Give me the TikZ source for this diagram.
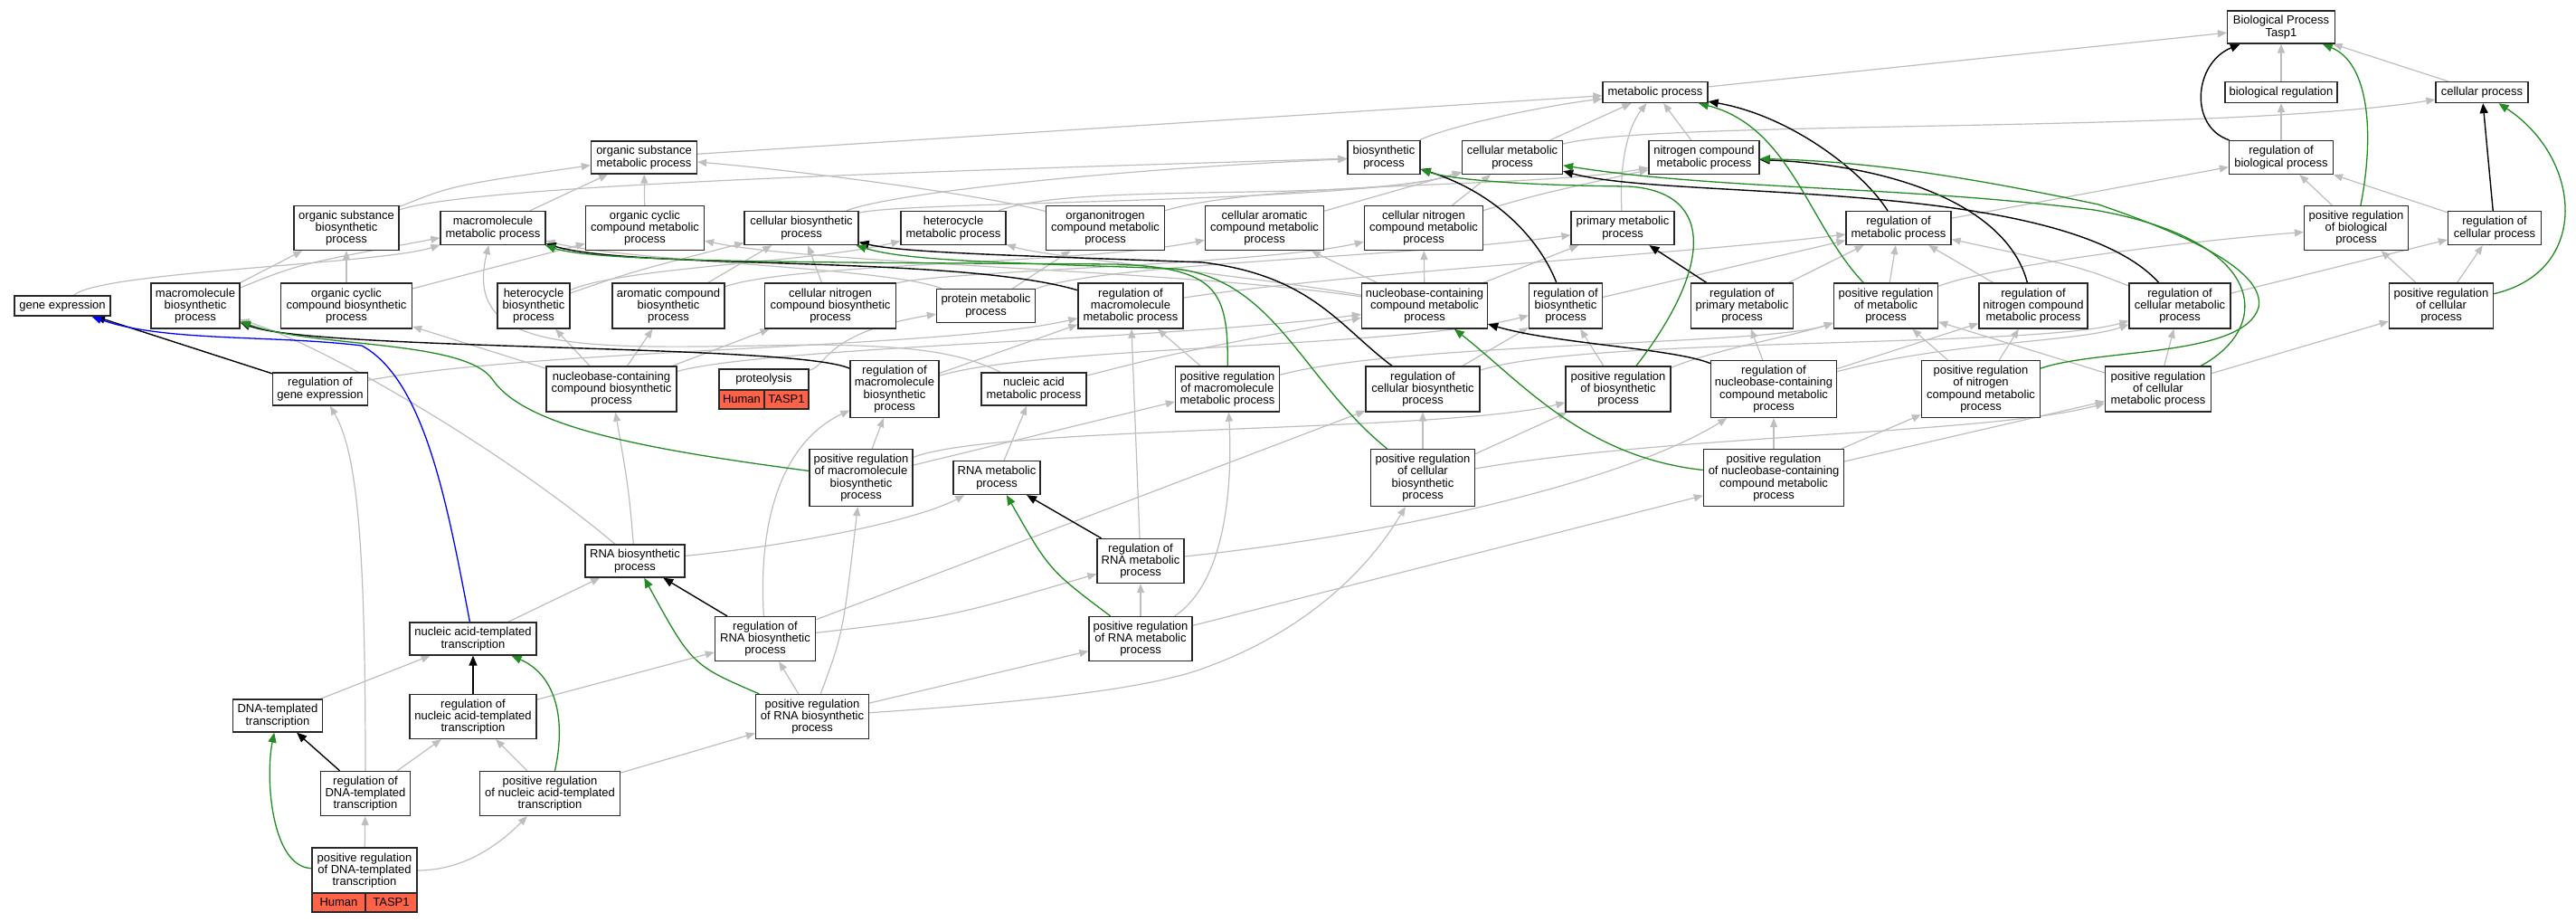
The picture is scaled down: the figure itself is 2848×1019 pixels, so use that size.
\documentclass[tikz,border=0pt]{standalone}
\usepackage{fontspec}
\setmainfont{Liberation Sans}
\usetikzlibrary{arrows.meta}
\definecolor{isagray}{RGB}{190,190,190}
\definecolor{pgreen}{RGB}{34,139,34}
\definecolor{tomatoc}{RGB}{255,99,71}
\definecolor{boxline}{RGB}{40,40,40}
\newcommand\gofont{\fontsize{13}{13.3}\selectfont}
\pgfdeclarelayer{bglayer}
\pgfdeclarelayer{edgelayer}
\pgfsetlayers{bglayer,edgelayer,main}
\tikzset{
  gobox/.style={draw=boxline, line width=1.3pt, fill=white, rectangle, inner sep=0pt, align=center, font=\gofont},
  tcell/.style={gobox, fill=tomatoc},
  wh/.style 2 args={minimum width=#1pt, minimum height=#2pt},
  isa/.style={draw=isagray, line width=1.2pt, -{Triangle[length=10pt,width=8pt]}},
  regl/.style={draw=black, line width=1.4pt, -{Triangle[length=11pt,width=9pt]}},
  preg/.style={draw=pgreen, line width=1.3pt, -{Triangle[length=11pt,width=9pt]}},
  partof/.style={draw=blue, line width=1.3pt, -{Triangle[length=11pt,width=9pt]}},
}
\begin{document}
\begin{tikzpicture}[x=1pt,y=-1pt]
\useasboundingbox (0,0) rectangle (2848,1019);
\begin{pgfonlayer}{bglayer}
\fill[white] (0,0) rectangle (2848,1019);
\end{pgfonlayer}
% ---------------- nodes ----------------
\node[gobox,wh={119}{36}] (t) at (2522,30) {Biological Process\\Tasp1};
\node[gobox,wh={124}{23}] (br) at (2522,102) {biological regulation};
\node[gobox,wh={102}{23}] (cp) at (2744,102) {cellular process};
\node[gobox,wh={116}{23}] (mp) at (1830,102) {metabolic process};
\node[gobox,wh={115}{37}] (rbp) at (2522,174) {regulation of\\biological process};
\node[gobox,wh={117}{36}] (osmp) at (712,174) {organic substance\\metabolic process};
\node[gobox,wh={80}{37}] (bsp) at (1530,174) {biosynthetic\\process};
\node[gobox,wh={111}{37}] (cmp) at (1672,174) {cellular metabolic\\process};
\node[gobox,wh={122}{37}] (ncmp) at (1884,174) {nitrogen compound\\metabolic process};
\node[gobox,wh={116}{49}] (osbp) at (383,252) {organic substance\\biosynthetic\\process};
\node[gobox,wh={116}{37}] (mmp) at (545,252) {macromolecule\\metabolic process};
\node[gobox,wh={131}{49}] (occmp) at (713,252) {organic cyclic\\compound metabolic\\process};
\node[gobox,wh={126}{37}] (cbp) at (886,252) {cellular biosynthetic\\process};
\node[gobox,wh={116}{37}] (hmp) at (1054,252) {heterocycle\\metabolic process};
\node[gobox,wh={131}{49}] (oncmp) at (1222,252) {organonitrogen\\compound metabolic\\process};
\node[gobox,wh={131}{49}] (cacmp) at (1398,252) {cellular aromatic\\compound metabolic\\process};
\node[gobox,wh={131}{49}] (cncmp) at (1574,252) {cellular nitrogen\\compound metabolic\\process};
\node[gobox,wh={114}{37}] (pmp) at (1794,252) {primary metabolic\\process};
\node[gobox,wh={116}{37}] (rmp) at (2099,252) {regulation of\\metabolic process};
\node[gobox,wh={115}{49}] (prbp) at (2605,252) {positive regulation\\of biological\\process};
\node[gobox,wh={103}{37}] (rcp) at (2758,252) {regulation of\\cellular process};
\node[gobox,wh={106}{22}] (ge) at (69,338) {gene expression};
\node[gobox,wh={98}{50}] (mbp) at (216,338) {macromolecule\\biosynthetic\\process};
\node[gobox,wh={145}{50}] (occbp) at (383,338) {organic cyclic\\compound biosynthetic\\process};
\node[gobox,wh={80}{50}] (hbp) at (590,338) {heterocycle\\biosynthetic\\process};
\node[gobox,wh={124}{50}] (acbp) at (739,338) {aromatic compound\\biosynthetic\\process};
\node[gobox,wh={145}{50}] (cncbp) at (918,338) {cellular nitrogen\\compound biosynthetic\\process};
\node[gobox,wh={109}{37}] (protmp) at (1090,338) {protein metabolic\\process};
\node[gobox,wh={116}{50}] (rmmp) at (1250,338) {regulation of\\macromolecule\\metabolic process};
\node[gobox,wh={139}{50}] (nccmp) at (1575,338) {nucleobase-containing\\compound metabolic\\process};
\node[gobox,wh={81}{50}] (rbsp) at (1731,338) {regulation of\\biosynthetic\\process};
\node[gobox,wh={113}{50}] (rpmp) at (1926,338) {regulation of\\primary metabolic\\process};
\node[gobox,wh={115}{50}] (prmp) at (2085,338) {positive regulation\\of metabolic\\process};
\node[gobox,wh={120}{50}] (rncmp) at (2248,338) {regulation of\\nitrogen compound\\metabolic process};
\node[gobox,wh={112}{50}] (rcmp) at (2410,338) {regulation of\\cellular metabolic\\process};
\node[gobox,wh={115}{50}] (prcp) at (2699,338) {positive regulation\\of cellular\\process};
\node[gobox,wh={105}{36}] (rge) at (354,430) {regulation of\\gene expression};
\node[gobox,wh={144}{50}] (nccbp) at (676,430) {nucleobase-containing\\compound biosynthetic\\process};
\node[gobox,wh={99}{23}] (prot) at (844.5,419.5) {proteolysis};
\node[tcell,wh={50}{21}] (proth) at (820,441.5) {Human};
\node[tcell,wh={49}{21}] (protg) at (869.5,441.5) {TASP1};
\node[gobox,wh={98}{63}] (rmbp) at (989,430) {regulation of\\macromolecule\\biosynthetic\\process};
\node[gobox,wh={116}{36}] (namp) at (1143,430) {nucleic acid\\metabolic process};
\node[gobox,wh={115}{50}] (prmmp) at (1357,430) {positive regulation\\of macromolecule\\metabolic process};
\node[gobox,wh={126}{50}] (rcbp) at (1573,430) {regulation of\\cellular biosynthetic\\process};
\node[gobox,wh={116}{50}] (prbsp) at (1789,430) {positive regulation\\of biosynthetic\\process};
\node[gobox,wh={139}{63}] (rnccmp) at (1961,430) {regulation of\\nucleobase-containing\\compound metabolic\\process};
\node[gobox,wh={131}{63}] (prncmp) at (2190,430) {positive regulation\\of nitrogen\\compound metabolic\\process};
\node[gobox,wh={117}{50}] (prcmp) at (2386,430) {positive regulation\\of cellular\\metabolic process};
\node[gobox,wh={114}{63}] (prmbp) at (952,528) {positive regulation\\of macromolecule\\biosynthetic\\process};
\node[gobox,wh={96}{37}] (rnamp) at (1102,528) {RNA metabolic\\process};
\node[gobox,wh={115}{63}] (prcbp) at (1573,528) {positive regulation\\of cellular\\biosynthetic\\process};
\node[gobox,wh={155}{63}] (prnccmp) at (1961,528) {positive regulation\\of nucleobase-containing\\compound metabolic\\process};
\node[gobox,wh={110}{36}] (rnabp) at (702,620) {RNA biosynthetic\\process};
\node[gobox,wh={96}{49}] (rrnamp) at (1261,620) {regulation of\\RNA metabolic\\process};
\node[gobox,wh={140}{36}] (natt) at (523,706) {nucleic acid-templated\\transcription};
\node[gobox,wh={111}{49}] (rrnabp) at (846,706) {regulation of\\RNA biosynthetic\\process};
\node[gobox,wh={114}{49}] (prrnamp) at (1261,706) {positive regulation\\of RNA metabolic\\process};
\node[gobox,wh={99}{36}] (dnatt) at (307,791) {DNA-templated\\transcription};
\node[gobox,wh={140}{49}] (rnatt) at (523,792) {regulation of\\nucleic acid-templated\\transcription};
\node[gobox,wh={125}{49}] (prrnabp) at (898,792) {positive regulation\\of RNA biosynthetic\\process};
\node[gobox,wh={99}{49}] (rdnatt) at (404,877) {regulation of\\DNA-templated\\transcription};
\node[gobox,wh={155}{49}] (prnatt) at (608,877) {positive regulation\\of nucleic acid-templated\\transcription};
\node[gobox,wh={116}{50}] (prdnatt) at (403,962) {positive regulation\\of DNA-templated\\transcription};
\node[tcell,wh={59}{21}] (pdh) at (374.5,997.5) {Human};
\node[tcell,wh={57}{21}] (pdg) at (432.5,997.5) {TASP1};
% ---------------- edges ----------------
\begin{pgfonlayer}{edgelayer}
% is_a (gray)
\draw[isa] (br) -- (t);
\draw[isa] (cp) -- (t);
\draw[isa] (mp) -- (t);
\draw[isa] (rbp) -- (br);
\draw[isa] (prbp) -- (rbp);
\draw[isa] (rcp) -- (rbp);
\draw[isa] (prcp) -- (rcp);
\draw[isa] (prcp) -- (prbp);
\draw[isa] (rmp) -- (rbp);
\draw[isa] (cmp) .. controls (1830,132) and (2450,148) .. (cp);
\draw[isa] (osmp) -- (mp);
\draw[isa] (bsp) .. controls (1600,140) and (1700,118) .. (mp);
\draw[isa] (cmp) -- (mp);
\draw[isa] (ncmp) -- (mp);
\draw[isa] (pmp) .. controls (1790,180) and (1800,140) .. (mp);
\draw[isa] (osbp) .. controls (500,205) .. (osmp);
\draw[isa] (osbp) .. controls (520,205) and (1000,190) .. (bsp);
\draw[isa] (mmp) -- (osmp);
\draw[isa] (occmp) -- (osmp);
\draw[isa] (oncmp) .. controls (1100,218) and (900,190) .. (osmp);
\draw[isa] (ge) .. controls (110,300) and (420,292) .. (mmp);
\draw[isa] (mbp) .. controls (330,292) .. (mmp);
\draw[isa] (mbp) -- (osbp);
\draw[isa] (occbp) -- (osbp);
\draw[isa] (occbp) -- (occmp);
\draw[isa] (hbp) .. controls (690,295) and (900,290) .. (hmp);
\draw[isa] (hbp) .. controls (700,300) .. (cbp);
\draw[isa] (acbp) -- (cbp);
\draw[isa] (acbp) .. controls (880,290) and (1200,292) .. (cacmp);
\draw[isa] (cncbp) -- (cbp);
\draw[isa] (cncbp) .. controls (1030,300) and (1400,292) .. (cncmp);
\draw[isa] (nccbp) -- (occbp);
\draw[isa] (nccbp) -- (hbp);
\draw[isa] (nccbp) -- (acbp);
\draw[isa] (nccbp) -- (cncbp);
\draw[isa] (nccbp) .. controls (850,383) and (1300,375) .. (nccmp);
\draw[isa] (cbp) .. controls (990,212) and (1250,186) .. (bsp);
\draw[isa] (cbp) .. controls (1000,222) and (1500,225) .. (cmp);
\draw[isa] (hmp) .. controls (1190,200) and (1500,225) .. (cmp);
\draw[isa] (oncmp) .. controls (1400,200) and (1700,208) .. (ncmp);
\draw[isa] (cacmp) -- (cmp);
\draw[isa] (cncmp) -- (cmp);
\draw[isa] (cncmp) .. controls (1700,215) .. (ncmp);
\draw[isa] (protmp) .. controls (980,295) and (700,290) .. (mmp);
\draw[isa] (protmp) -- (oncmp);
\draw[isa] (protmp) .. controls (1230,290) and (1550,285) .. (pmp);
\draw[isa] (nccmp) -- (cacmp);
\draw[isa] (nccmp) -- (cncmp);
\draw[isa] (nccmp) -- (pmp);
\draw[isa] (nccmp) .. controls (1350,300) and (1160,285) .. (hmp);
\draw[isa] (nccmp) .. controls (1300,298) and (900,292) .. (occmp);
\draw[isa] (prot) .. controls (915,405) and (910,368) .. (protmp);
\draw[isa] (rnabp) .. controls (560,500) and (360,382) .. (mbp);
\draw[isa] (rnabp) .. controls (695,540) .. (nccbp);
\draw[isa] (rnabp) .. controls (900,600) and (1020,572) .. (rnamp);
\draw[isa] (natt) -- (rnabp);
\draw[isa] (dnatt) -- (natt);
\draw[isa] (rnatt) -- (rrnabp);
\draw[isa] (prnatt) -- (rnatt);
\draw[isa] (prnatt) -- (prrnabp);
\draw[isa] (rdnatt) -- (rnatt);
\draw[isa] (rdnatt) .. controls (404,600) and (395,500) .. (rge);
\draw[isa] (prdnatt) -- (rdnatt);
\draw[isa] (prdnatt) .. controls (520,962) and (560,925) .. (prnatt);
\draw[isa] (rrnabp) .. controls (1050,682) .. (rrnamp);
\draw[isa] (rrnabp) -- (rcbp);
\draw[isa] (rrnabp) .. controls (838,580) and (862,490) .. (rmbp);
\draw[isa] (prrnabp) -- (rrnabp);
\draw[isa] (prrnabp) -- (prrnamp);
\draw[isa] (prrnabp) .. controls (932,700) .. (prmbp);
\draw[isa] (prrnabp) .. controls (1150,775) and (1280,760) .. (1340,735) .. controls (1420,705) and (1500,650) .. (prcbp);
\draw[isa] (prrnamp) -- (rrnamp);
\draw[isa] (prrnamp) -- (prnccmp);
\draw[isa] (prrnamp) .. controls (1360,640) and (1362,520) .. (prmmp);
\draw[isa] (rrnamp) .. controls (1550,590) and (1800,530) .. (rnccmp);
\draw[isa] (rrnamp) -- (rmmp);
\draw[isa] (rnamp) -- (namp);
\draw[isa] (namp) .. controls (1300,390) .. (nccmp);
\draw[isa] (namp) .. controls (1060,388) and (1000,382) .. (900,381) .. controls (650,385) and (510,395) .. (mmp);
\draw[isa] (prmbp) -- (rmbp);
\draw[isa] (prmbp) -- (prmmp);
\draw[isa] (prmbp) .. controls (1100,470) and (1600,478) .. (prbsp);
\draw[isa] (rmbp) -- (rmmp);
\draw[isa] (rmbp) .. controls (1150,382) and (1550,385) .. (rbsp);
\draw[isa] (rge) .. controls (600,385) and (1050,385) .. (rmmp);
\draw[isa] (prmmp) -- (rmmp);
\draw[isa] (prmmp) .. controls (1550,378) and (1950,382) .. (prmp);
\draw[isa] (rcbp) -- (rbsp);
\draw[isa] (rcbp) .. controls (1750,372) and (2250,385) .. (rcmp);
\draw[isa] (prbsp) -- (rbsp);
\draw[isa] (prbsp) .. controls (1900,385) and (1980,372) .. (prmp);
\draw[isa] (rnccmp) -- (rpmp);
\draw[isa] (rnccmp) -- (rncmp);
\draw[isa] (rnccmp) .. controls (2150,378) and (2300,378) .. (rcmp);
\draw[isa] (prnccmp) -- (rnccmp);
\draw[isa] (prnccmp) -- (prncmp);
\draw[isa] (prnccmp) -- (prcmp);
\draw[isa] (prcbp) -- (rcbp);
\draw[isa] (prcbp) -- (prbsp);
\draw[isa] (prcbp) .. controls (1850,480) and (2200,480) .. (prcmp);
\draw[isa] (prncmp) -- (rncmp);
\draw[isa] (prncmp) -- (prmp);
\draw[isa] (prcmp) -- (rcmp);
\draw[isa] (prcmp) -- (prmp);
\draw[isa] (prcmp) -- (prcp);
\draw[isa] (rpmp) -- (rmp);
\draw[isa] (rbsp) -- (rmp);
\draw[isa] (rmmp) .. controls (1500,300) and (1850,282) .. (rmp);
\draw[isa] (rncmp) -- (rmp);
\draw[isa] (rcmp) .. controls (2300,295) .. (rmp);
\draw[isa] (prmp) -- (rmp);
\draw[isa] (prmp) .. controls (2200,295) and (2400,268) .. (prbp);
\draw[isa] (rcmp) -- (rcp);
% regulates (black)
\draw[regl] (rbp) .. controls (2420,140) and (2425,70) .. (t);
\draw[regl] (rcp) -- (cp);
\draw[regl] (rmp) .. controls (2060,190) and (1980,128) .. (mp);
\draw[regl] (rbsp) .. controls (1700,260) and (1650,212) .. (bsp);
\draw[regl] (rpmp) -- (pmp);
\draw[regl] (rncmp) .. controls (2220,230) and (2100,183) .. (ncmp);
\draw[regl] (rcmp) .. controls (2280,195) and (1850,222) .. (cmp);
\draw[regl] (rnccmp) .. controls (1850,385) and (1720,380) .. (nccmp);
\draw[regl] (rcbp) .. controls (1480,360) and (1450,305) .. (1330,290) .. controls (1150,283) and (1000,280) .. (cbp);
\draw[regl] (rmmp) .. controls (1060,282) and (700,298) .. (mmp);
\draw[regl] (rmbp) .. controls (880,380) and (350,388) .. (mbp);
\draw[regl] (rge) -- (ge);
\draw[regl] (rrnamp) -- (rnamp);
\draw[regl] (rrnabp) -- (rnabp);
\draw[regl] (rnatt) -- (natt);
\draw[regl] (rdnatt) -- (dnatt);
% positively regulates (green)
\draw[preg] (prbp) .. controls (2625,150) and (2620,70) .. (t);
\draw[preg] (prcp) .. controls (2865,300) and (2855,175) .. (cp);
\draw[preg] (prmp) .. controls (2000,250) and (1980,140) .. (mp);
\draw[preg] (prbsp) .. controls (1890,300) and (1900,212) .. (1800,206) .. controls (1700,205) and (1610,200) .. (bsp);
\draw[preg] (prcmp) .. controls (2515,360) and (2505,265) .. (2315,232) .. controls (2100,205) and (1900,210) .. (cmp);
\draw[preg] (prncmp) .. controls (2320,385) and (2480,395) .. (2497,340) .. controls (2505,300) and (2420,260) .. (2320,226) .. controls (2150,190) and (2050,178) .. (ncmp);
\draw[preg] (prnccmp) .. controls (1750,505) and (1680,420) .. (nccmp);
\draw[preg] (prcbp) .. controls (1440,420) and (1410,310) .. (1300,297) .. controls (1100,290) and (1000,288) .. (cbp);
\draw[preg] (prmmp) .. controls (1358,320) and (1345,296) .. (1233,292) .. controls (900,290) and (660,290) .. (mmp);
\draw[preg] (prmbp) .. controls (700,495) and (580,470) .. (545,420) .. controls (515,375) and (350,385) .. (mbp);
\draw[preg] (prrnamp) .. controls (1160,630) .. (rnamp);
\draw[preg] (prrnabp) .. controls (765,735) .. (rnabp);
\draw[preg] (prnatt) .. controls (627,790) and (612,745) .. (natt);
\draw[preg] (prdnatt) .. controls (300,958) and (293,860) .. (dnatt);
% part_of (blue)
\draw[partof] (natt) .. controls (495,560) and (470,420) .. (400,382) .. controls (300,370) and (180,378) .. (ge);
\end{pgfonlayer}
\end{tikzpicture}
\end{document}
